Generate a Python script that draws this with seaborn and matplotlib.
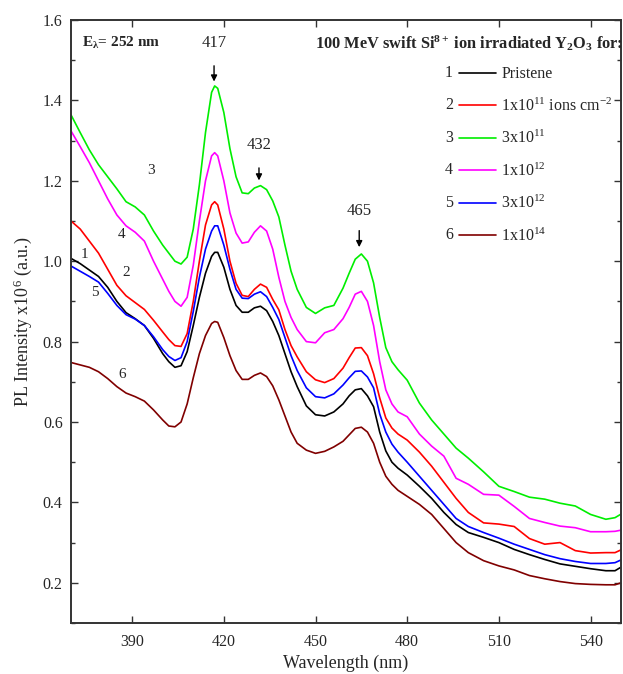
import numpy as np
import pandas as pd
import matplotlib
matplotlib.use("Agg")
import matplotlib.pyplot as plt
import seaborn as sns
from matplotlib.ticker import MultipleLocator

wavelength = [370, 373, 376, 379, 382, 385, 388, 391, 394, 397, 400,
              402, 404, 406, 408, 410, 412, 414, 416, 417, 418,
              420, 422, 424, 426, 428, 430, 432, 434, 436, 438,
              440, 442, 444, 447, 450, 453, 456, 459, 461, 463,
              465, 467, 469, 471, 473, 475, 477, 480, 484, 488,
              492, 496, 500, 505, 510, 515, 520, 525, 530, 535,
              540, 545, 548, 550]

pristine = [1.007, 0.994, 0.978, 0.962, 0.935, 0.900, 0.872, 0.857, 0.840, 0.808, 0.770,
            0.750, 0.736, 0.740, 0.775, 0.840, 0.910, 0.970, 1.012, 1.022, 1.022,
            0.985, 0.930, 0.890, 0.873, 0.873, 0.884, 0.888, 0.877, 0.850, 0.815,
            0.770, 0.725, 0.688, 0.640, 0.618, 0.615, 0.625, 0.645, 0.665, 0.680,
            0.683, 0.665, 0.638, 0.575, 0.528, 0.500, 0.485, 0.468, 0.440, 0.410,
            0.375, 0.345, 0.325, 0.313, 0.300, 0.283, 0.270, 0.258, 0.247, 0.241,
            0.235, 0.230, 0.230, 0.239]

f_1e11 = [1.100, 1.080, 1.050, 1.020, 0.980, 0.940, 0.914, 0.897, 0.880, 0.853, 0.824,
          0.805, 0.790, 0.788, 0.820, 0.900, 1.000, 1.090, 1.140, 1.148, 1.140,
          1.080, 1.000, 0.945, 0.915, 0.912, 0.930, 0.943, 0.935, 0.905, 0.879,
          0.830, 0.790, 0.762, 0.725, 0.705, 0.698, 0.708, 0.734, 0.760, 0.784,
          0.785, 0.765, 0.720, 0.660, 0.610, 0.585, 0.570, 0.555, 0.525, 0.490,
          0.450, 0.410, 0.375, 0.349, 0.346, 0.340, 0.310, 0.296, 0.300, 0.280,
          0.274, 0.275, 0.275, 0.282]

f_3e11 = [1.364, 1.320, 1.277, 1.240, 1.210, 1.180, 1.148, 1.135, 1.115, 1.075, 1.040,
          1.020, 1.000, 0.993, 1.010, 1.080, 1.190, 1.320, 1.420, 1.436, 1.430,
          1.370, 1.280, 1.210, 1.170, 1.168, 1.182, 1.188, 1.178, 1.150, 1.110,
          1.040, 0.975, 0.930, 0.885, 0.870, 0.884, 0.890, 0.933, 0.970, 1.005,
          1.018, 1.000, 0.946, 0.860, 0.785, 0.750, 0.730, 0.704, 0.647, 0.605,
          0.570, 0.535, 0.510, 0.476, 0.440, 0.427, 0.413, 0.408, 0.398, 0.391,
          0.370, 0.358, 0.362, 0.371]

f_1e12 = [1.324, 1.285, 1.245, 1.200, 1.155, 1.115, 1.088, 1.072, 1.050, 1.000, 0.955,
          0.925, 0.900, 0.888, 0.910, 0.990, 1.100, 1.200, 1.262, 1.270, 1.262,
          1.200, 1.120, 1.070, 1.045, 1.048, 1.072, 1.088, 1.075, 1.030, 0.960,
          0.900, 0.860, 0.830, 0.800, 0.797, 0.822, 0.830, 0.857, 0.885, 0.918,
          0.925, 0.900, 0.840, 0.750, 0.680, 0.645, 0.625, 0.613, 0.570, 0.540,
          0.515, 0.460, 0.445, 0.420, 0.418, 0.390, 0.360, 0.350, 0.341, 0.337,
          0.327, 0.327, 0.328, 0.331]

f_3e12 = [0.988, 0.975, 0.962, 0.948, 0.920, 0.890, 0.867, 0.856, 0.840, 0.812, 0.780,
          0.763, 0.753, 0.760, 0.800, 0.875, 0.960, 1.030, 1.075, 1.088, 1.088,
          1.040, 0.980, 0.930, 0.908, 0.907, 0.918, 0.924, 0.912, 0.885, 0.855,
          0.810, 0.765, 0.728, 0.685, 0.663, 0.660, 0.670, 0.692, 0.710, 0.726,
          0.727, 0.712, 0.685, 0.620, 0.575, 0.545, 0.525, 0.500, 0.465, 0.430,
          0.395, 0.360, 0.340, 0.325, 0.311, 0.296, 0.283, 0.270, 0.260, 0.253,
          0.248, 0.248, 0.250, 0.257]

f_1e14 = [0.748, 0.742, 0.736, 0.725, 0.708, 0.688, 0.672, 0.663, 0.652, 0.630, 0.605,
          0.590, 0.588, 0.600, 0.645, 0.710, 0.770, 0.815, 0.845, 0.850, 0.848,
          0.810, 0.765, 0.728, 0.706, 0.706, 0.716, 0.722, 0.713, 0.690, 0.655,
          0.615, 0.575, 0.547, 0.530, 0.522, 0.527, 0.538, 0.552, 0.568, 0.584,
          0.587, 0.575, 0.547, 0.500, 0.465, 0.445, 0.430, 0.415, 0.395, 0.370,
          0.335, 0.300, 0.275, 0.255, 0.242, 0.232, 0.218, 0.210, 0.203, 0.198,
          0.196, 0.195, 0.195, 0.200]

series_names = ["1", "2", "3", "4", "5", "6"]
series_values = [pristine, f_1e11, f_3e11, f_1e12, f_3e12, f_1e14]
legend_labels = ["Pristene", r"1x10$^{11}$ ions cm$^{-2}$", r"3x10$^{11}$", r"1x10$^{12}$",
                 r"3x10$^{12}$", r"1x10$^{14}$"]
colors = ["#000000", "#ff0000", "#00ee00", "#ff00ff", "#0000ff", "#800000"]

curve_label_pos = {"3": (396.2, 1.225), "4": (386.7, 1.066), "1": (374.3, 1.017),
                   "2": (388.0, 0.972), "5": (377.8, 0.922), "6": (386.7, 0.718)}
peak_marks = [(416.8, 1.543, 1.493, 1.440, "417"), (431.5, 1.289, 1.239, 1.194, "432"),
              (464.3, 1.125, 1.083, 1.028, "465")]

df = pd.concat([pd.DataFrame({"wl": wavelength, "I": v, "s": n})
                for n, v in zip(series_names, series_values)], ignore_index=True)

sns.set_style("ticks")
plt.rcParams["font.family"] = ["Liberation Serif", "DejaVu Serif"]
plt.rcParams["mathtext.fontset"] = "custom"
plt.rcParams["mathtext.rm"] = "Liberation Serif"
plt.rcParams["mathtext.it"] = "Liberation Serif:italic"
plt.rcParams["mathtext.bf"] = "Liberation Serif:bold"
plt.rcParams["mathtext.default"] = "regular"

fig = plt.figure(figsize=(6.23, 6.74), dpi=100)
ax = fig.add_axes([0.114, 0.0757, 0.883, 0.8946])

sns.lineplot(data=df, x="wl", y="I", hue="s", palette=colors, hue_order=series_names,
             estimator=None, sort=False, legend=False, linewidth=1.2, ax=ax)
for ln in ax.lines:
    ln.set_solid_joinstyle("round")

ax.set_xlim(370, 550)
ax.set_ylim(0.1, 1.6)
ax.xaxis.set_major_locator(MultipleLocator(30))
ax.yaxis.set_major_locator(MultipleLocator(0.2))
ax.yaxis.set_minor_locator(MultipleLocator(0.1))
ax.tick_params(axis="both", which="both", direction="in", top=True, right=True, labelsize=11.5,
               color="#333333", width=1.0)
ax.tick_params(which="major", length=5)
ax.tick_params(which="minor", length=3)
ax.tick_params(axis="x", pad=8)
ax.tick_params(axis="y", pad=6)
for sp in ax.spines.values():
    sp.set_linewidth(1.4)
    sp.set_color("#333333")

ax.set_xlabel("Wavelength (nm)", fontsize=13, labelpad=3)
ax.set_ylabel(r"PL Intensity x10$^{6}$ (a.u.)", fontsize=13, labelpad=6)

leg = ax.legend(handles=ax.lines[:6], labels=legend_labels, loc="upper left",
                bbox_to_anchor=(0.705, 0.923), frameon=False, fontsize=11.5,
                handlelength=2.3, handletextpad=0.35, labelspacing=0.95,
                borderpad=0, borderaxespad=0)
fig.canvas.draw()
r = fig.canvas.get_renderer()
inv = ax.transAxes.inverted()
for num, line in zip(series_names, leg.get_lines()):
    lb = line.get_window_extent(r)
    yc = (lb.y0 + lb.y1) / 2
    x0, y0 = inv.transform((lb.x0 - 6, yc))
    ax.text(x0, y0, num, transform=ax.transAxes, ha="right", va="center", fontsize=11.5)

ax.text(0.02, 0.962, r"E$_{\mathbf{λ}}$= 252 nm", transform=ax.transAxes, fontsize=11,
        fontweight="bold", ha="left", va="center")
ax.text(1.003, 0.962, r"100 MeV swift Si$^{\mathbf{8+}}$ ion irradiated Y$_{\mathbf{2}}$O$_{\mathbf{3}}$ for:",
        transform=ax.transAxes, fontsize=11.8, fontweight="bold", ha="right", va="center")

for k, (xx, yy) in curve_label_pos.items():
    ax.text(xx, yy, k, fontsize=11, ha="center", va="center")

for xx, yt, ya0, ya1, lab in peak_marks:
    ax.text(xx, yt, lab, fontsize=12, ha="center", va="center")
    ax.annotate("", xy=(xx, ya1), xytext=(xx, ya0),
                arrowprops=dict(arrowstyle="-|>", color="black", lw=1.0, mutation_scale=9))

fig.savefig("out.png", dpi=100)
